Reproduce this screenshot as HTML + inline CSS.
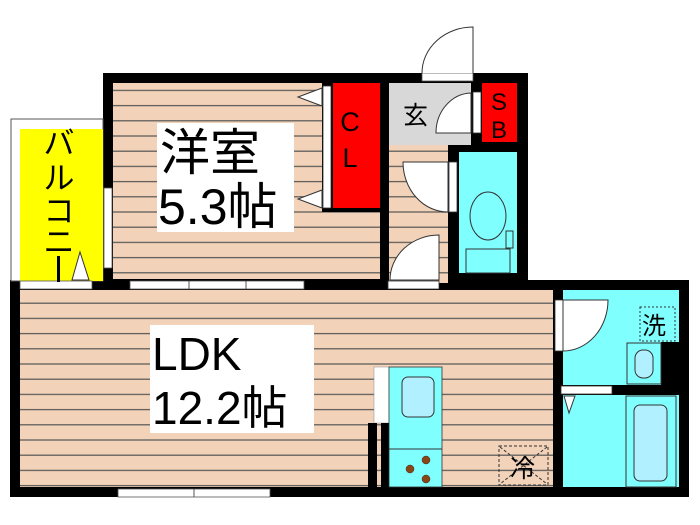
<!DOCTYPE html>
<html><head><meta charset="utf-8"><style>
html,body{margin:0;padding:0;background:#fff;width:700px;height:525px;overflow:hidden}
svg{display:block}
text{font-family:"Liberation Sans","Noto Sans CJK JP",sans-serif}
</style></head><body>
<svg width="700" height="525" viewBox="0 0 700 525" xmlns="http://www.w3.org/2000/svg">
<defs>
<pattern id="wood" x="0" y="0" width="10" height="15.2" patternUnits="userSpaceOnUse">
<rect width="10" height="15.2" fill="#f2d2b8"/><rect y="13.8" width="10" height="1.2" fill="#555"/>
</pattern>
</defs>
<rect x="103" y="73" width="425" height="217" fill="#000"/>
<rect x="10" y="280" width="679" height="217" fill="#000"/>
<!-- balcony -->
<rect x="11" y="119" width="92" height="162" fill="#fff" stroke="#555" stroke-width="1"/>
<rect x="20" y="129" width="83" height="152" fill="#ffff00"/>
<rect x="20" y="281" width="72" height="8" fill="#fff" stroke="#555" stroke-width="0.8"/>
<polygon points="72,280 80,252 89,280" fill="#fff" stroke="#333" stroke-width="1"/>
<g font-size="31" fill="#000" text-anchor="middle">
<text x="59" y="154">バ</text><text x="59" y="189">ル</text><text x="59" y="222">コ</text><text x="59" y="253">ニ</text>
<rect x="57" y="256" width="3" height="26" fill="#000"/>
</g>
<!-- 洋室 -->
<rect x="113" y="83" width="209" height="196" fill="url(#wood)"/>
<rect x="322" y="212" width="58" height="67" fill="url(#wood)"/>
<rect x="323" y="86" width="8" height="122" fill="#fff" stroke="#333" stroke-width="0.8"/>
<polygon points="322,88 298,97 322,106" fill="#fff" stroke="#333"/>
<polygon points="322,190 298,199 322,208" fill="#fff" stroke="#333"/>
<rect x="333" y="83" width="47" height="125" fill="#ff0000"/>
<text x="350" y="131" font-size="27" text-anchor="middle">C</text>
<text x="350" y="167" font-size="27" text-anchor="middle">L</text>
<rect x="104" y="188" width="8" height="80" fill="#fff" stroke="#555" stroke-width="0.8"/>
<rect x="157" y="123" width="137" height="109" fill="#fff"/>
<text x="160" y="170" font-size="50">洋室</text>
<text x="158" y="224" font-size="50">5.3帖</text>
<rect x="130" y="281" width="174" height="8" fill="#fff" stroke="#555" stroke-width="0.8"/>
<line x1="189" y1="281" x2="189" y2="289" stroke="#555"/><line x1="246" y1="281" x2="246" y2="289" stroke="#555"/>
<!-- entrance -->
<rect x="389" y="83" width="82" height="62" fill="#d8d8d8"/>
<rect x="389" y="145" width="59" height="138" fill="url(#wood)"/>
<rect x="422" y="73" width="51" height="8" fill="#fff" stroke="#555" stroke-width="0.8"/>
<path d="M473,73 L473,27 A51,46 0 0 0 422,73" fill="#fff" stroke="#333"/>
<path d="M471,93 L471,133 L436,133 A36,40 0 0 1 471,93Z" fill="#fff" stroke="#333"/>
<rect x="473" y="92" width="8" height="41" fill="#fff" stroke="#333" stroke-width="0.8"/>
<text x="403" y="124" font-size="25">玄</text>
<rect x="482" y="83" width="35" height="59" fill="#ff0000"/>
<text x="499" y="110" font-size="24" text-anchor="middle">S</text>
<text x="499" y="138" font-size="24" text-anchor="middle">B</text>
<path d="M448,162 L403,162 A45,50 0 0 0 448,212Z" fill="#fff" stroke="#333"/>
<rect x="449" y="162" width="8" height="50" fill="#fff" stroke="#333" stroke-width="0.8"/>
<path d="M439,235 L439,280 L390,280 A49,45 0 0 1 439,235Z" fill="#fff" stroke="#333"/>
<rect x="388" y="281" width="51" height="8" fill="#fff" stroke="#333" stroke-width="0.8"/>
<!-- toilet -->
<rect x="459" y="152" width="58" height="121" fill="#80ffff"/>
<ellipse cx="488" cy="216" rx="18" ry="24" fill="#80ffff" stroke="#333"/>
<rect x="506" y="231" width="7" height="17" fill="#80ffff" stroke="#333"/>
<rect x="466" y="249" width="44" height="24" fill="#80ffff" stroke="#333"/>
<!-- LDK -->
<rect x="20" y="290" width="533" height="197" fill="url(#wood)"/>
<rect x="150" y="325" width="164" height="108" fill="#fff"/>
<text x="152" y="370" font-size="46">LDK</text>
<text x="152" y="424" font-size="46">12.2帖</text>
<rect x="118" y="489" width="152" height="8" fill="#fff" stroke="#555" stroke-width="0.8"/>
<line x1="194" y1="489" x2="194" y2="497" stroke="#555"/>
<!-- kitchen -->
<rect x="374" y="367" width="15" height="56" fill="#fff" stroke="#888" stroke-width="0.5"/>
<rect x="368" y="423" width="9" height="64" fill="#000"/>
<rect x="381" y="423" width="8" height="64" fill="#000"/>
<rect x="389" y="367" width="53" height="120" fill="#80ffff" stroke="#333" stroke-width="0.8"/>
<rect x="402" y="377" width="32" height="40" rx="6" fill="#b0f0ff" stroke="#333"/>
<line x1="389" y1="449" x2="442" y2="449" stroke="#333"/>
<circle cx="410" cy="469" r="4" fill="#8b4513" stroke="#333" stroke-width="0.5"/>
<circle cx="426" cy="460" r="4" fill="#8b4513" stroke="#333" stroke-width="0.5"/>
<circle cx="426" cy="479" r="4" fill="#8b4513" stroke="#333" stroke-width="0.5"/>
<rect x="499" y="446" width="49" height="39" fill="none" stroke="#333" stroke-dasharray="3,2"/>
<line x1="500" y1="447" x2="547" y2="484" stroke="#333" stroke-dasharray="3,2"/>
<line x1="547" y1="447" x2="500" y2="484" stroke="#333" stroke-dasharray="3,2"/>
<text x="510" y="477" font-size="25">冷</text>
<!-- washroom -->
<rect x="563" y="290" width="116" height="95" fill="#80ffff"/>
<rect x="661" y="342" width="18" height="43" fill="#000"/>
<rect x="555" y="300" width="8" height="51" fill="#fff" stroke="#333" stroke-width="0.8"/>
<path d="M563,300 L608,300 A45,51 0 0 1 563,351Z" fill="#fff" stroke="#333"/>
<rect x="640" y="307" width="35" height="34" fill="none" stroke="#333" stroke-dasharray="2,2"/>
<text x="642" y="334" font-size="24">洗</text>
<rect x="627" y="343" width="34" height="41" fill="#80ffff" stroke="#333"/>
<rect x="635" y="350" width="18" height="28" rx="8" fill="#b0f0ff" stroke="#333"/>
<rect x="563" y="385" width="116" height="10" fill="#000"/>
<rect x="561" y="386" width="51" height="8" fill="#fff" stroke="#333" stroke-width="0.8"/>
<!-- bath -->
<rect x="563" y="395" width="116" height="92" fill="#80ffff"/>
<polygon points="564,396 575,396 569,413" fill="#fff" stroke="#333"/>
<rect x="626" y="396" width="50" height="91" fill="#80ffff" stroke="#333"/>
<rect x="634" y="405" width="33" height="76" rx="6" fill="#b0f0ff" stroke="#333"/>
</svg>
</body></html>
